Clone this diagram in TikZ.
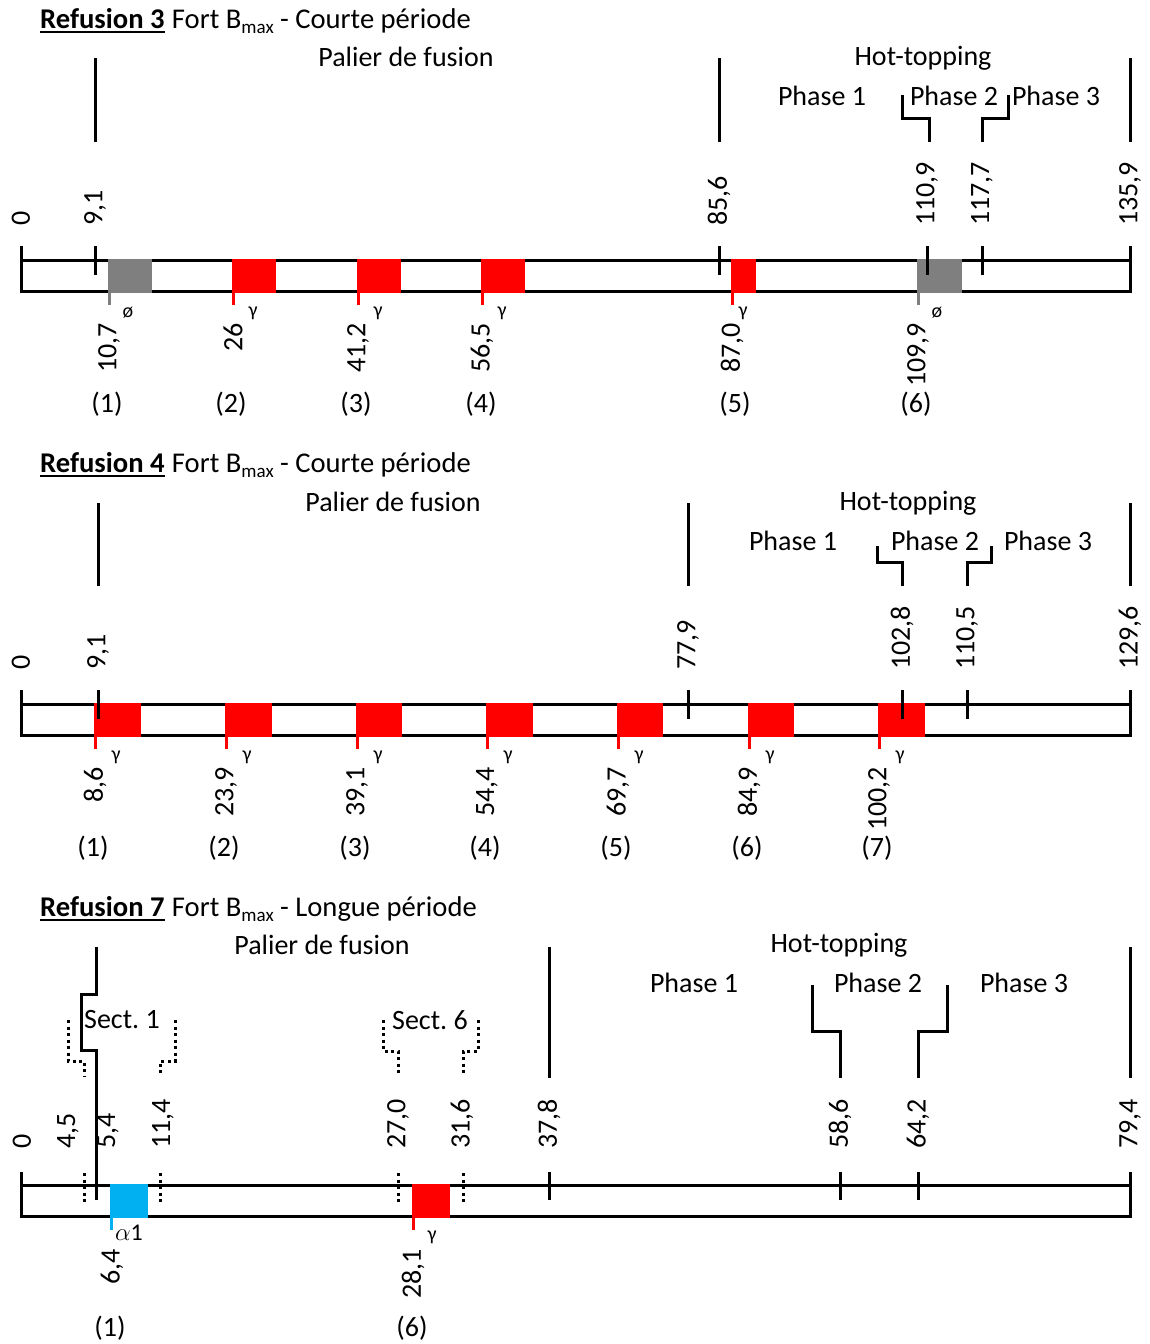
\documentclass[tikz,border=0pt]{standalone}
\usepackage{fontspec}
\setmainfont{Carlito}
\definecolor{cgray}{RGB}{127,127,127}
\definecolor{cblue}{RGB}{0,176,240}
\frenchspacing
\begin{document}
\begin{tikzpicture}[x=1pt,y=-1pt,
  every node/.style={inner sep=0pt, font=\fontsize{28}{32}\selectfont},
  ln/.style={line width=3pt},
  dotln/.style={line width=3pt, dash pattern=on 3pt off 3.5pt},
  toplab/.style={rotate=90, anchor=west},
  botlab/.style={rotate=90, anchor=east},
  smalllab/.style={font=\fontsize{20}{22}\selectfont},
  titlefont/.style={font=\fontsize{28.6}{32}\selectfont},
  markln/.style={line width=2.5pt}]
\useasboundingbox (0,0) rectangle (1149,1344);
\fill[white] (0,0) rectangle (1149,1344);

% ================= Panel 1 =================
\node[titlefont, anchor=base west] (t1) at (40,28) {\textbf{Refusion 3}};
\draw[line width=2pt] ([yshift=-4pt]t1.base west) -- ([yshift=-4pt]t1.base east);
\node[titlefont, anchor=base west] (t1b) at ([xshift=7pt]t1.base east) {Fort B\raisebox{-5pt}{\fontsize{19}{19}\selectfont max} - Courte période};
\node (p1pal) at (406,57) {Palier de fusion};
\node (p1hot) at (923,58) {Hot-topping};
\node (p1ph1) at (822,96) {Phase 1};
\node (p1ph2) at (954,96) {Phase 2};
\node (p1ph3) at (1056,96) {Phase 3};
\draw[ln] (95,58) -- (95,142);
\draw[ln] (719,58) -- (719,142);
\draw[ln] (1130,58) -- (1130,142);
\draw[ln] (902,95) -- (902,118) -- (929,118) -- (929,142);
\draw[ln] (1008,95) -- (1008,118) -- (982,118) -- (982,142);
% bar
\draw[ln] (21,260) rectangle (1130,291);
\draw[ln] (21,246) -- (21,291);
\draw[ln] (1130,246) -- (1130,291);
\foreach \xa/\xb/\col/\sx/\sym/\val/\num in {108/152/cgray/128/ø/{10,7}/1, 232/276/red/253/γ/26/2, 357/401/red/378/γ/{41,2}/3, 481/525/red/502/γ/{56,5}/4, 731/756/red/743/γ/{87,0}/5, 917/962/cgray/937/ø/{109,9}/6}{
  \fill[\col] (\xa,258.5) rectangle (\xb,292.5);
  \draw[\col, markln] (\xa+1.25,292) -- (\xa+1.25,305);
  \node[smalllab] (a-s\num) at (\sx,313) {\sym};
  \node[botlab] (a-v\num) at (\xa+1,323) {\val};
}
\foreach \x/\num in {107/1, 231/2, 356/3, 481/4, 735/5, 916/6}{
  \node (a-n\num) at (\x,404) {(\num)};
}
\foreach \x in {95,719,927,982}{
  \draw[ln] (\x,246) -- (\x,275);
}
\foreach \x/\val/\k in {21/0/1, 95/{9,1}/2, 719/{85,6}/3, 927/{110,9}/4, 982/{117,7}/5, 1130/{135,9}/6}{
  \node[toplab] (a-t\k) at (\x,226) {\val};
}

% ================= Panel 2 =================
\node[titlefont, anchor=base west] (t2) at (40,472) {\textbf{Refusion 4}};
\draw[line width=2pt] ([yshift=-4pt]t2.base west) -- ([yshift=-4pt]t2.base east);
\node[titlefont, anchor=base west] (t2b) at ([xshift=7pt]t2.base east) {Fort B\raisebox{-5pt}{\fontsize{19}{19}\selectfont max} - Courte période};
\node (p2pal) at (393,502) {Palier de fusion};
\node (p2hot) at (908,503) {Hot-topping};
\node (p2ph1) at (793,541) {Phase 1};
\node (p2ph2) at (935,541) {Phase 2};
\node (p2ph3) at (1048,541) {Phase 3};
\draw[ln] (98,503) -- (98,586);
\draw[ln] (688,503) -- (688,586);
\draw[ln] (1130,503) -- (1130,586);
\draw[ln] (877,546) -- (877,562) -- (902,562) -- (902,586);
\draw[ln] (991,546) -- (991,562) -- (967,562) -- (967,586);
\draw[ln] (21,704) rectangle (1130,735);
\draw[ln] (21,690) -- (21,735);
\draw[ln] (1130,690) -- (1130,735);
\foreach \xa/\xb/\val/\num in {94/141/{8,6}/1, 225/272/{23,9}/2, 356/402/{39,1}/3, 486/533/{54,4}/4, 617/663/{69,7}/5, 748/794/{84,9}/6, 878/925/{100,2}/7}{
  \fill[red] (\xa,702.5) rectangle (\xb,736.5);
  \draw[red, markln] (\xa+1.25,736) -- (\xa+1.25,749);
  \node[smalllab] (b-s\num) at (\xa+22,757) {γ};
  \node[botlab] (b-v\num) at (\xa+1,767) {\val};
  \node (b-n\num) at (\xa-1,848) {(\num)};
}
\foreach \x in {98,688,902,967}{
  \draw[ln] (\x,690) -- (\x,719);
}
\foreach \x/\val/\k in {21/0/1, 98/{9,1}/2, 688/{77,9}/3, 902/{102,8}/4, 967/{110,5}/5, 1130/{129,6}/6}{
  \node[toplab] (b-t\k) at (\x,670) {\val};
}

% ================= Panel 3 =================
\node[titlefont, anchor=base west] (t3) at (40,916) {\textbf{Refusion 7}};
\draw[line width=2pt] ([yshift=-4pt]t3.base west) -- ([yshift=-4pt]t3.base east);
\node[titlefont, anchor=base west] (t3b) at ([xshift=7pt]t3.base east) {Fort B\raisebox{-5pt}{\fontsize{19}{19}\selectfont max} - Longue période};
\node (p3pal) at (322,945) {Palier de fusion};
\node (p3hot) at (839,945) {Hot-topping};
\node (p3ph1) at (694,983) {Phase 1};
\node (p3ph2) at (878,983) {Phase 2};
\node (p3ph3) at (1024,983) {Phase 3};
\node (p3s1) at (122,1020) {Sect. 1};
\node (p3s6) at (430,1020) {Sect. 6};
\draw[ln] (96,947) -- (96,994) -- (81,994) -- (81,1050) -- (96,1050) -- (96,1200);
\draw[ln] (549,947) -- (549,1078);
\draw[ln] (1130,947) -- (1130,1078);
\draw[ln] (812,985) -- (812,1031) -- (840,1031) -- (840,1078);
\draw[ln] (947,985) -- (947,1031) -- (918,1031) -- (918,1078);
\draw[dotln] (68,1020) -- (68,1061) -- (84,1061) -- (84,1076);
\draw[dotln] (175,1020) -- (175,1061) -- (160,1061) -- (160,1076);
\draw[dotln] (383,1020) -- (383,1051) -- (398,1051) -- (398,1076);
\draw[dotln] (478,1020) -- (478,1051) -- (463,1051) -- (463,1076);
\draw[ln] (21,1185) rectangle (1130,1216);
\draw[ln] (21,1172) -- (21,1216);
\draw[ln] (1130,1172) -- (1130,1216);
\fill[cblue] (110,1183.5) rectangle (148,1217.5);
\draw[cblue, markln] (111.25,1216) -- (111.25,1230);
\fill[red] (412,1183.5) rectangle (450,1217.5);
\draw[red, markln] (413.25,1216) -- (413.25,1230);
\foreach \x in {84,160,398,463}{
  \draw[dotln] (\x,1173) -- (\x,1202);
}
\foreach \x in {549,840,918}{
  \draw[ln] (\x,1172) -- (\x,1200);
}
\node[font=\fontsize{24}{26}\selectfont] (c-s1) at (129,1233) {$\alpha$1};
\node[smalllab] (c-s6) at (432,1237) {γ};
\node[botlab] (c-v1) at (112,1249) {6,4};
\node[botlab] (c-v6) at (413,1249) {28,1};
\node (c-n1) at (110,1328) {(1)};
\node (c-n6) at (412,1328) {(6)};
\foreach \x/\val/\k in {22/0/1, 68/{4,5}/2, 108/{5,4}/3, 163/{11,4}/4, 398/{27,0}/5, 462/{31,6}/6, 549/{37,8}/7, 840/{58,6}/8, 918/{64,2}/9, 1130/{79,4}/10}{
  \node[toplab] (c-t\k) at (\x,1149) {\val};
}
\end{tikzpicture}
\end{document}
